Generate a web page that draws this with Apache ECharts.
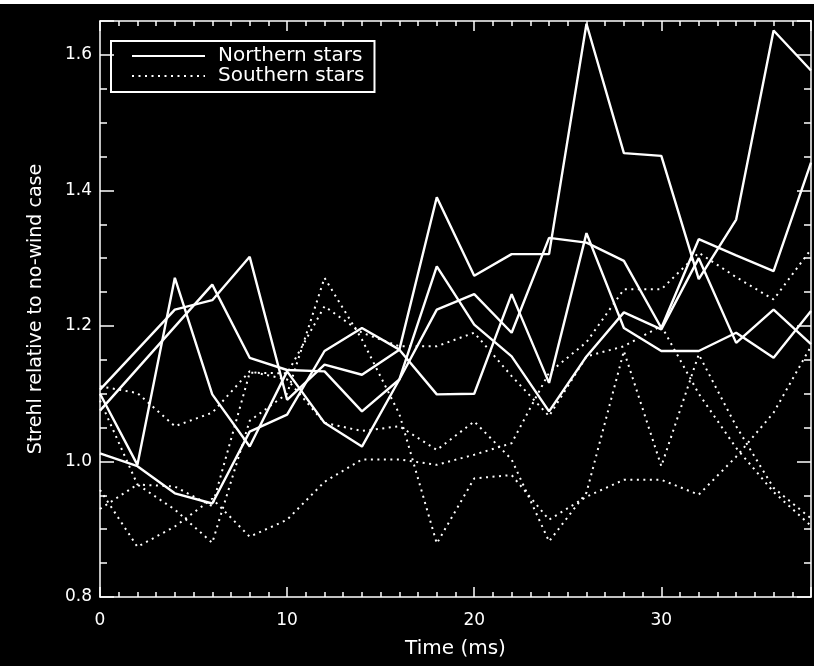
<!DOCTYPE html>
<html>
<head>
<meta charset="utf-8">
<script src="https://cdn.jsdelivr.net/npm/echarts@6/dist/echarts.min.js"></script>
<style>html,body{margin:0;padding:0;background:#000;}#c{width:814px;height:666px;}</style>
</head>
<body>
<div id="c"></div>
<script>
// Time axis (ms)
const times = [0,2,4,6,8,10,12,14,16,18,20,22,24,26,28,30,32,34,36,38];
const yTicks = [0.8, 1.0, 1.2, 1.4, 1.6];
const xTicks = [0, 10, 20, 30];

// Northern stars (solid)
const north1 = [1.012,0.993,0.953,0.938,1.044,1.069,1.163,1.197,1.165,1.099,1.100,1.247,1.116,1.337,1.197,1.163,1.163,1.190,1.153,1.222];
const north2 = [1.100,0.995,1.271,1.099,1.022,1.133,1.057,1.022,1.121,1.224,1.247,1.190,1.330,1.323,1.296,1.197,1.328,1.304,1.281,1.441];
const north3 = [1.075,1.137,1.199,1.261,1.153,1.135,1.133,1.074,1.121,1.288,1.202,1.155,1.074,1.155,1.220,1.195,1.300,1.175,1.224,1.173];
const north4 = [1.106,1.165,1.224,1.238,1.302,1.091,1.143,1.128,1.165,1.390,1.274,1.306,1.306,1.646,1.455,1.451,1.269,1.357,1.636,1.577];

// Southern stars (dotted)
const south1 = [1.111,1.101,1.052,1.072,1.133,1.121,1.057,1.045,1.052,1.017,1.059,1.003,0.882,0.954,1.163,0.993,1.158,1.052,0.961,0.916];
const south2 = [0.958,0.874,0.904,0.945,0.889,0.914,0.970,1.003,1.003,0.995,1.010,1.027,1.131,1.176,1.254,1.254,1.308,1.272,1.239,1.313];
const south3 = [0.930,0.966,0.929,0.880,1.060,1.100,1.271,1.180,1.070,0.879,0.975,0.980,0.914,0.948,0.973,0.973,0.951,1.007,1.072,1.170];
const south4 = [1.090,0.966,0.963,0.934,1.131,1.130,1.229,1.190,1.170,1.170,1.190,1.126,1.067,1.155,1.170,1.200,1.100,1.020,0.955,0.905];

const northern = [north1, north2, north3, north4];
const southern = [south1, south2, south3, south4];

const FONT = 'DejaVu Sans';
const pair = arr => times.map((t, i) => [t, arr[i]]);

const series = [];
northern.forEach(arr => series.push({
  name: 'Northern stars', type: 'line', data: pair(arr), symbol: 'none',
  lineStyle: { color: '#fff', width: 2.4, type: 'solid' }, itemStyle: { color: '#fff' },
  animation: false, silent: true
}));
southern.forEach(arr => series.push({
  name: 'Southern stars', type: 'line', data: pair(arr), symbol: 'none',
  lineStyle: { color: '#fff', width: 2, type: [2, 4.5], cap: 'butt' }, itemStyle: { color: '#fff' },
  animation: false, silent: true
}));

const axisLine = { show: true, onZero: false, lineStyle: { color: '#fff', width: 1.5 } };
const xCommon = { type: 'value', min: 0, max: 38, interval: 10, splitLine: { show: false } };
const yCommon = { type: 'value', min: 0.8, max: 1.65, interval: 0.2, splitLine: { show: false } };

const chart = echarts.init(document.getElementById('c'), null, { renderer: 'canvas' });
chart.setOption({
  backgroundColor: '#000',
  animation: false,
  grid: { left: 100, right: 1, top: 21, bottom: 69, containLabel: false },
  legend: {
    left: 111, top: 41, orient: 'vertical',
    data: ['Northern stars', 'Southern stars'],
    borderColor: '#fff', borderWidth: 2, borderRadius: 0,
    padding: [5, 10, 6, 20], itemGap: 0, itemWidth: 73, itemHeight: 14,
    itemStyle: { opacity: 0 },
    textStyle: { color: '#fff', fontFamily: FONT, fontSize: 20, lineHeight: 20, padding: [0, 0, 0, 8] },
    selectedMode: false
  },
  xAxis: [
    Object.assign({}, xCommon, {
      position: 'bottom',
      name: 'Time (ms)', nameLocation: 'middle', nameGap: 42,
      nameTextStyle: { color: '#fff', fontFamily: FONT, fontSize: 20 },
      axisLine: axisLine,
      axisTick: { show: true, inside: true, length: 10, lineStyle: { color: '#fff', width: 1.5 } },
      minorTick: { show: true, splitNumber: 10, length: 5, lineStyle: { color: '#fff', width: 1.5 } },
      axisLabel: { show: true, color: '#fff', fontFamily: FONT, fontSize: 17, margin: 15,
        formatter: v => xTicks.indexOf(v) >= 0 ? String(v) : '' }
    }),
    Object.assign({}, xCommon, {
      position: 'top',
      axisLine: axisLine,
      axisTick: { show: true, inside: true, length: 10, lineStyle: { color: '#fff', width: 1.5 } },
      minorTick: { show: true, splitNumber: 10, length: 5, lineStyle: { color: '#fff', width: 1.5 } },
      axisLabel: { show: false }
    })
  ],
  yAxis: [
    Object.assign({}, yCommon, {
      position: 'left',
      name: 'Strehl relative to no-wind case', nameLocation: 'middle', nameGap: 54, nameRotate: 90,
      nameTextStyle: { color: '#fff', fontFamily: FONT, fontSize: 19 },
      axisLine: axisLine,
      axisTick: { show: true, inside: true, length: 14, lineStyle: { color: '#fff', width: 1.5 } },
      minorTick: { show: true, splitNumber: 4, length: 7, lineStyle: { color: '#fff', width: 1.5 } },
      axisLabel: { show: true, color: '#fff', fontFamily: FONT, fontSize: 17, margin: 8,
        formatter: v => { const k = yTicks.find(t => Math.abs(t - v) < 1e-6); return k !== undefined ? k.toFixed(1) : ''; } }
    }),
    Object.assign({}, yCommon, {
      position: 'right',
      axisLine: axisLine,
      axisTick: { show: true, inside: true, length: 14, lineStyle: { color: '#fff', width: 1.5 } },
      minorTick: { show: true, splitNumber: 4, length: 7, lineStyle: { color: '#fff', width: 1.5 } },
      axisLabel: { show: false }
    })
  ],
  graphic: [
    { type: 'rect', left: 0, top: 0, shape: { width: 814, height: 4 }, style: { fill: '#fff' }, silent: true }
  ],
  series: series
});
</script>
</body>
</html>
